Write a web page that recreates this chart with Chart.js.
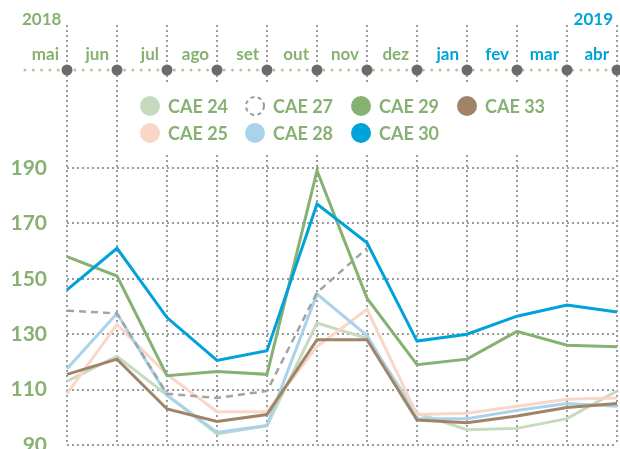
<!DOCTYPE html>
<html>
<head>
<script src="https://cdn.jsdelivr.net/npm/chart.js"></script>
<style>
  body { margin: 0; background: #fff; }
</style>
</head>
<body>
<canvas id="chart" width="620" height="449"></canvas>
<script>
const months = ['mai', 'jun', 'jul', 'ago', 'set', 'out', 'nov', 'dez', 'jan', 'fev', 'mar', 'abr'];
const yearLabels = ['2018', '2019'];
const yTicks = [90, 110, 130, 150, 170, 190];

const cae24 = [113, 122, 108, 94, 97, 134, 128.5, 101.5, 95.5, 96, 99.5, 109.5];
const cae25 = [108.5, 133.5, 115.5, 102, 102, 125.5, 139, 101, 101.5, 104, 106.5, 107];
const cae27 = [138.5, 137.5, 108.5, 107, 109.5, 145, 161, null, null, null, null, null];
const cae28 = [117.5, 137.5, 108, 94.5, 97, 144.5, 129.5, 99.5, 99.5, 102.5, 105, 104];
const cae29 = [158, 151, 115, 116.5, 115.5, 189, 143, 119, 121, 131, 126, 125.5];
const cae30 = [146, 161, 136, 120.5, 124, 177, 163, 127.5, 130, 136.5, 140.5, 138];
const cae33 = [115.5, 121, 103, 98.5, 101, 128, 128, 99, 98, 100.5, 103.5, 105];

const green = '#86b172';
const blue = '#00a3d9';
const gridGray = '#9b9b9b';
const FONT = 'Lato, "Open Sans", sans-serif';

const series = [
  { label: 'CAE 24', data: cae24, borderColor: '#c6dbbd', order: 6 },
  { label: 'CAE 25', data: cae25, borderColor: '#f9d6c8', order: 5 },
  { label: 'CAE 27', data: cae27, borderColor: '#a3a3a3', borderDash: [7, 5], borderWidth: 2.5, order: 3 },
  { label: 'CAE 28', data: cae28, borderColor: '#a8d3ea', order: 4 },
  { label: 'CAE 29', data: cae29, borderColor: '#86b172', order: 2 },
  { label: 'CAE 30', data: cae30, borderColor: '#00a3d9', order: 0 },
  { label: 'CAE 33', data: cae33, borderColor: '#a08468', order: 1 }
];

// extras: timeline header, legend box
const decor = {
  id: 'decor',
  beforeDatasetsDraw(chart) {
    const ctx = chart.ctx;
    const x = chart.scales.x;
    ctx.save();
    // white box behind legend
    ctx.fillStyle = '#fff';
    ctx.fillRect(130, 85, 425, 68);

    // green dotted timeline
    ctx.strokeStyle = '#a9cc98';
    ctx.lineWidth = 3;
    ctx.lineCap = 'round';
    ctx.setLineDash([0, 8.3]);
    ctx.beginPath();
    ctx.moveTo(25, 70);
    ctx.lineTo(620, 70);
    ctx.stroke();
    ctx.setLineDash([]);

    // gray knots
    ctx.fillStyle = '#6b6b6b';
    months.forEach((m, i) => {
      ctx.beginPath();
      ctx.arc(x.getPixelForValue(i), 70, 5.5, 0, Math.PI * 2);
      ctx.fill();
    });

    // month labels
    ctx.font = 'bold 17px ' + FONT;
    ctx.textAlign = 'right';
    ctx.textBaseline = 'middle';
    months.forEach((m, i) => {
      ctx.fillStyle = i < 8 ? green : blue;
      ctx.fillText(m, x.getPixelForValue(i) - 8, 55);
    });

    // years
    ctx.textAlign = 'left';
    ctx.fillStyle = green;
    ctx.fillText(yearLabels[0], 22, 20);
    ctx.textAlign = 'right';
    ctx.fillStyle = blue;
    ctx.fillText(yearLabels[1], 613, 20);
    ctx.restore();
  },
  afterDraw(chart) {
    const ctx = chart.ctx;
    const colX = [150, 255, 361, 467];
    const rowY = [106, 133];
    ctx.save();
    ctx.font = 'bold 18px ' + FONT;
    ctx.textAlign = 'left';
    ctx.textBaseline = 'middle';
    chart.data.datasets.forEach((ds, k) => {
      const cx = colX[Math.floor(k / 2)];
      const cy = rowY[k % 2];
      if (ds.borderDash) {
        ctx.strokeStyle = '#9a9a9a';
        ctx.lineWidth = 2;
        ctx.setLineDash([4, 3.5]);
        ctx.beginPath();
        ctx.arc(cx, cy, 9, 0, Math.PI * 2);
        ctx.stroke();
        ctx.setLineDash([]);
      } else {
        ctx.beginPath();
        ctx.arc(cx, cy, 10, 0, Math.PI * 2);
        ctx.fillStyle = ds.borderColor;
        ctx.fill();
      }
      ctx.fillStyle = green;
      ctx.fillText(ds.label, cx + 18, cy + 1);
    });
    ctx.restore();
  }
};

new Chart(document.getElementById('chart'), {
  type: 'line',
  data: {
    labels: months,
    datasets: series.map(s => ({
      label: s.label,
      data: s.data,
      borderColor: s.borderColor,
      borderWidth: s.borderWidth || 3,
      borderDash: s.borderDash,
      pointRadius: 0,
      tension: 0,
      fill: false,
      order: s.order
    }))
  },
  options: {
    responsive: false,
    animation: false,
    layout: { padding: { top: 25, bottom: 4, left: 0, right: 3 } },
    plugins: {
      legend: { display: false },
      tooltip: { enabled: false }
    },
    scales: {
      x: {
        offset: false,
        ticks: { display: false },
        grid: { color: gridGray, lineWidth: 2, drawTicks: false },
        border: { display: false, dash: [2, 3] },
        afterFit(scale) {
          scale.height = 0;
          scale.paddingLeft = 0;
          scale.paddingRight = 0;
        }
      },
      y: {
        min: 90,
        max: 241.6,
        ticks: {
          stepSize: 20,
          padding: 20,
          color: green,
          font: { family: FONT, size: 21, weight: 'bold' }
        },
        afterBuildTicks(scale) {
          scale.ticks = yTicks.map(v => ({ value: v }));
        },
        grid: { color: gridGray, lineWidth: 2, drawTicks: false },
        border: { display: false, dash: [2, 3] },
        afterFit(scale) {
          scale.width = 67;
          scale.paddingTop = 0;
          scale.paddingBottom = 0;
        }
      }
    }
  },
  plugins: [decor]
});
</script>
</body>
</html>
